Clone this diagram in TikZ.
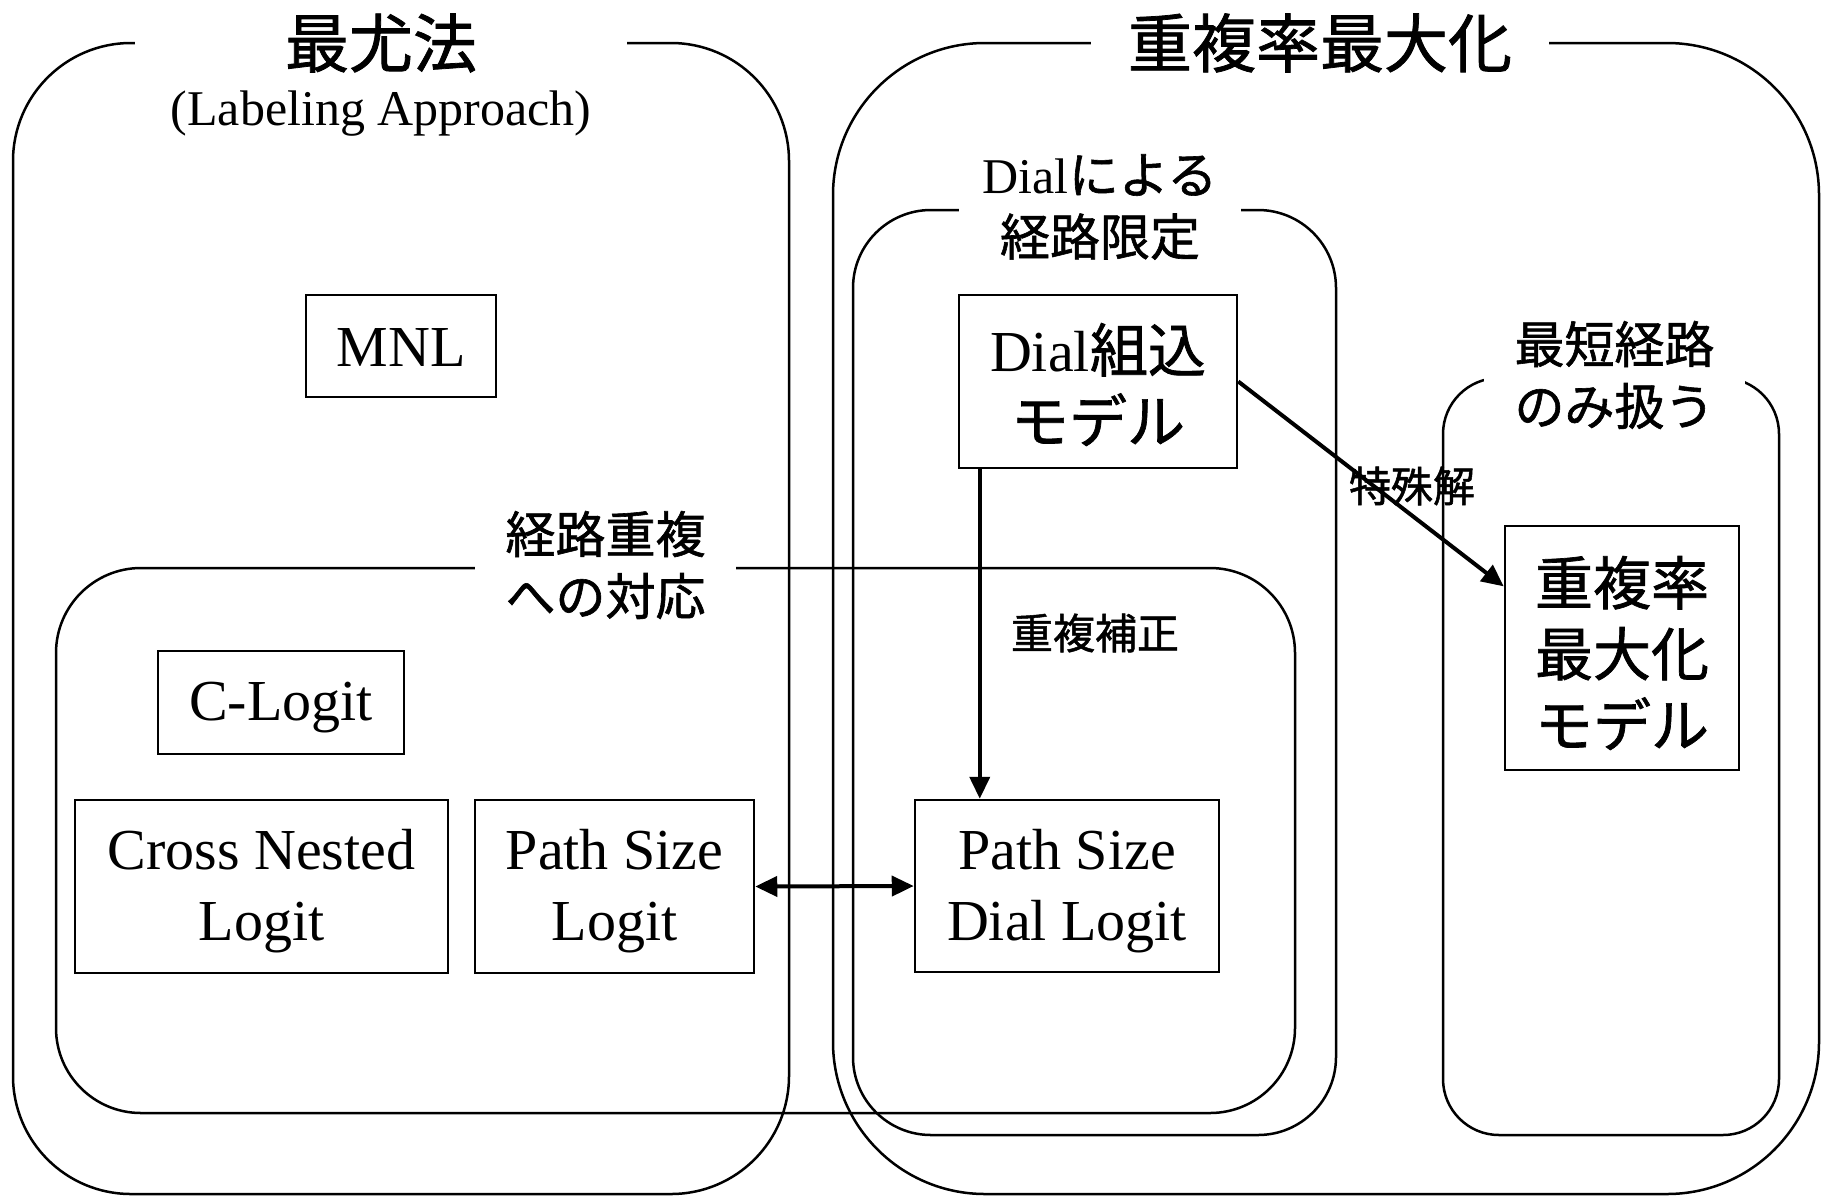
\documentclass[tikz,border=0pt]{standalone}
\usepackage{fontspec}
\setmainfont{Liberation Serif}
\newfontfamily\jp[FakeBold=1.2]{Noto Sans CJK JP}
\usetikzlibrary{arrows.meta,calc}

\begin{document}
\begin{tikzpicture}[x=1pt,y=-1pt,
  frame/.style={line width=2.5pt, rounded corners=#1},
  model/.style={draw, line width=2.5pt, inner sep=0pt},
  modeltext/.style={inner sep=0pt, align=center,
    font=\fontsize{58}{71}\selectfont},
  grouptitle/.style={fill=white, inner sep=0pt, align=center,
    font=\jp\fontsize{64}{70}\selectfont},
  tag/.style={fill=white, inner sep=0pt, align=center,
    font=\jp\fontsize{50}{62}\selectfont},
  note/.style={inner sep=0pt, font=\jp\fontsize{42}{50}\selectfont},
  tip/.tip={Triangle[length=22pt,width=20pt]},
  link/.style={line width=4pt, -tip},
  twoway/.style={line width=4pt, tip-tip},
]
\useasboundingbox[fill=white] (0,0) rectangle (1835,1197);

% enclosing groups
\draw[frame=118pt] (13,43) rectangle (789,1194);
\draw[frame=152pt] (833,43) rectangle (1819,1194);
\draw[frame=78pt] (853,210) rectangle (1336,1135);
\draw[frame=56pt] (1443,378) rectangle (1779,1135);
\draw[frame=85pt] (56,568) rectangle (1295,1113);

% group titles, each one breaking the top edge of its group
\node[grouptitle, minimum width=492pt] (mltitle) at (381,43) {最尤法};
\node[inner sep=0pt, font=\fontsize{50}{60}\selectfont] (labeling) at (381,114) {(Labeling Approach)};
\node[grouptitle, minimum width=458pt] (ortitle) at (1320,43) {重複率最大化};
\node[tag, minimum width=282pt] (dialtitle) at (1100,207) {{\rmfamily Dial}による\\経路限定};
\node[tag, minimum width=261pt] (shorttitle) at (1614.5,375) {最短経路\\のみ扱う};
\node[tag, minimum width=261pt] (overlaptitle) at (605.5,565) {経路重複\\への対応};

% model boxes
\node[model, minimum width=190pt, minimum height=102pt] (mnl) at (401,346) {};
\node[model, minimum width=246pt, minimum height=103pt] (clogit) at (281,702.5) {};
\node[model, minimum width=373pt, minimum height=173pt] (cnl) at (261.5,886.5) {};
\node[model, minimum width=279pt, minimum height=173pt] (psl) at (614.5,886.5) {};
\node[model, minimum width=304pt, minimum height=172pt] (psdl) at (1067,886) {};
\node[model, minimum width=278pt, minimum height=173pt] (dialm) at (1098,381.5) {};
\node[model, minimum width=234pt, minimum height=244pt] (oml) at (1622,648) {};

% model names
\node[modeltext] (mnl-t) at ([yshift=-2pt]mnl.center) {MNL};
\node[modeltext] (clogit-t) at ([yshift=-5pt]clogit.center) {C-Logit};
\node[modeltext] (cnl-t) at ([yshift=-5pt]cnl.center) {Cross Nested\\Logit};
\node[modeltext] (psl-t) at ([yshift=-5pt]psl.center) {Path Size\\Logit};
\node[modeltext] (psdl-t) at ([yshift=-5pt]psdl.center) {Path Size\\Dial Logit};
\node[modeltext] (dialm-t) at ([yshift=-3pt]dialm.center) {Dial{\jp 組込}\\{\jp モデル}};
\node[modeltext] (oml-t) at ([yshift=-5pt]oml.center) {{\jp 重複率}\\{\jp 最大化}\\{\jp モデル}};

% relations
\coordinate (vstart) at ($(dialm.south west)+(22,0)$);
\draw[link] (vstart) -- (vstart |- psdl.north);
\draw[link] (dialm.east) -- ($(oml.north west)!0.25!(oml.south west)$);
\draw[twoway] (psl.east) -- (psdl.west);

\node[note] (special) at (1412,486) {特殊解};
\node[note] (correction) at (1095,633) {重複補正};
\end{tikzpicture}
\end{document}
